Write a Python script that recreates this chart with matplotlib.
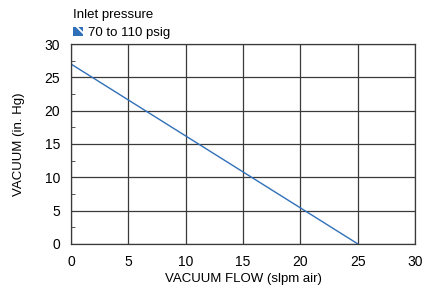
import matplotlib
matplotlib.use("Agg")
import matplotlib.pyplot as plt
from matplotlib.patches import Patch
from matplotlib.ticker import MultipleLocator

plt.rcParams['font.family'] = ['Liberation Sans', 'DejaVu Sans']
plt.rcParams['hatch.color'] = 'white'
plt.rcParams['hatch.linewidth'] = 1.3

## data
flow = [0, 25]
vacuum = [27, 0]
series_label = '70 to 110 psig'
legend_title = 'Inlet pressure'
line_color = '#3070b8'

fig = plt.figure(figsize=(4.28, 2.9), dpi=100)
ax = fig.add_axes([0.166, 0.159, 0.804, 0.689])

ax.plot(flow, vacuum, color=line_color, linewidth=1.0)

ax.set_xlim(0, 30)
ax.set_ylim(0, 30)
ax.xaxis.set_major_locator(MultipleLocator(5))
ax.yaxis.set_major_locator(MultipleLocator(5))
ax.yaxis.set_minor_locator(MultipleLocator(2.5))
ax.grid(True, which='major', color='#3a3a3a', linewidth=0.9)
ax.tick_params(which='major', length=0, labelsize=10)
ax.tick_params(axis='x', which='major', pad=8)
ax.tick_params(axis='y', which='major', pad=8)
ax.tick_params(axis='y', which='minor', direction='in', length=3, color='#3a3a3a')
for s in ax.spines.values():
    s.set_color('#3a3a3a')
    s.set_linewidth(0.9)

ax.set_xlabel('VACUUM FLOW (slpm air)', fontsize=9.5, labelpad=3)
ax.set_ylabel('VACUUM (in. Hg)', fontsize=9.5, labelpad=14)

handle = Patch(facecolor=line_color, edgecolor='white', hatch='\\\\', linewidth=0)
leg = fig.legend([handle], [series_label], title=legend_title, loc='upper left',
                 bbox_to_anchor=(0.145, 1.005), frameon=False, fontsize=9.5,
                 title_fontsize=9.5, handlelength=0.75, handleheight=0.75,
                 handletextpad=0.4, borderpad=0.3, labelspacing=0.2)
leg._legend_box.align = 'left'
leg._legend_box.sep = 4

fig.savefig('out.png', dpi=100)
